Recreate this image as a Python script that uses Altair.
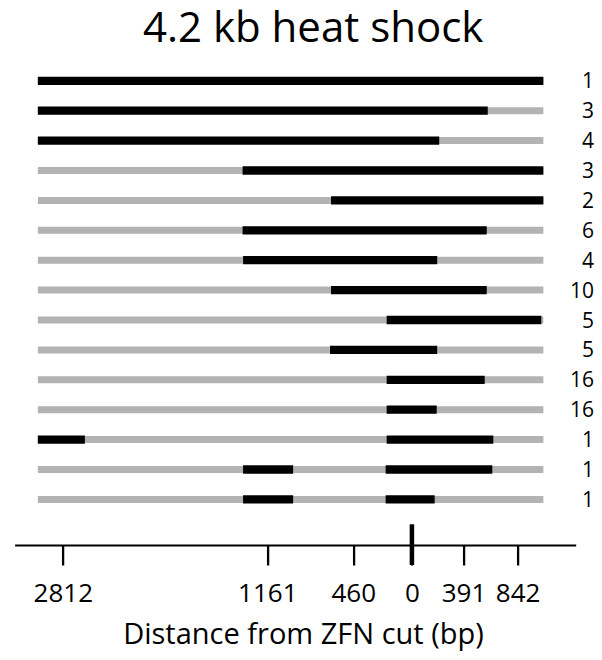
import altair as alt
import pandas as pd

title_text = "4.2 kb heat shock"
x_title = "Distance from ZFN cut (bp)"

# number of clones for each read pattern (top to bottom)
counts = [1, 3, 4, 3, 2, 6, 4, 10, 5, 5, 16, 16, 1, 1, 1]

# schematic coordinate along the locus: 0 = left end, 100 = right end
read_start = [0] * 15
read_end = [100] * 15

# converted (black) tracts per read, in the same schematic coordinate
black_segments = [
    [(0, 100)],
    [(0, 89.0)],
    [(0, 79.4)],
    [(40.5, 100)],
    [(58.0, 100)],
    [(40.5, 88.8)],
    [(40.6, 79.0)],
    [(58.0, 88.8)],
    [(69.0, 99.6)],
    [(57.8, 79.0)],
    [(69.0, 88.4)],
    [(69.0, 78.9)],
    [(0, 9.3), (69.0, 90.1)],
    [(40.6, 50.5), (68.8, 89.9)],
    [(40.6, 50.5), (68.8, 78.5)],
]

# axis marker positions (schematic coordinate) and their bp labels
tick_positions = [4.93, 45.4, 62.4, 74.0, 84.2, 94.9]
tick_labels = ["2812", "1161", "460", "0", "391", "842"]
cut_position = 74.0

rows = []
for i in range(len(counts)):
    rows.append({"row": i, "start": read_start[i], "end": read_end[i], "kind": "gray"})
for i, segs in enumerate(black_segments):
    for s, e in segs:
        rows.append({"row": i, "start": s, "end": e, "kind": "black"})
df = pd.DataFrame(rows)
cut_df = pd.DataFrame({"start": [cut_position]})

FONT = "Open Sans"
W, H = 561.1, 485
PAD_L = 6.6
PAD_R = 586 - W - PAD_L

pos_js = "[" + ",".join(str(p) for p in tick_positions) + "]"
lab_js = "[" + ",".join("'" + t + "'" for t in tick_labels) + "]"
cnt_js = "[" + ",".join(str(c) for c in counts) + "]"

x_enc = alt.X(
    "start:Q",
    scale=alt.Scale(domain=[-4.6, 106.4], nice=False, zero=False),
    axis=alt.Axis(
        values=tick_positions,
        labelExpr=f"{lab_js}[indexof({pos_js}, datum.value)]",
        grid=False,
        domainColor="black",
        domainWidth=2,
        tickColor="black",
        tickWidth=2.3,
        tickSize=20,
        labelFont=FONT,
        labelFontSize=26,
        labelColor="black",
        labelBaseline="alphabetic",
        labelPadding=36.7,
        labelOverlap=False,
        labelFlush=False,
        title=x_title,
        titleFont=FONT,
        titleFontSize=29,
        titleFontWeight="normal",
        titleColor="black",
        titleBaseline="alphabetic",
        titleAlign="center",
        titleX=288.4,
        titleY=98.5,
    ),
)

y_enc = alt.Y(
    "row:Q",
    scale=alt.Scale(domain=[-0.696, 15.525], reverse=True, nice=False, zero=False),
    axis=alt.Axis(
        orient="right",
        values=list(range(len(counts))),
        labelExpr=f"{cnt_js}[datum.value]",
        ticks=False,
        domain=False,
        grid=False,
        title=None,
        labelAlign="right",
        labelBaseline="middle",
        labelPadding=PAD_R - 0.5,
        labelOffset=1,
        labelFont=FONT,
        labelFontSize=21,
        labelColor="black",
    ),
)

bars = alt.Chart(df).mark_rule(strokeCap="butt").encode(
    x=x_enc,
    x2="end:Q",
    y=y_enc,
    color=alt.Color("kind:N", scale=alt.Scale(domain=["gray", "black"], range=["#b3b3b3", "#000000"]), legend=None),
    strokeWidth=alt.StrokeWidth("kind:N", scale=alt.Scale(domain=["gray", "black"], range=[7, 8.3]), legend=None),
)

cut_tick = alt.Chart(cut_df).mark_rule(color="black", strokeWidth=4.5, strokeCap="butt").encode(
    x=alt.X("start:Q"),
    y=alt.value(H - 20.7),
    y2=alt.value(H + 20),
)

chart = alt.layer(bars, cut_tick).properties(
    width=W,
    height=H,
    autosize=alt.AutoSizeParams(type="none"),
    padding={"left": PAD_L, "top": 52, "right": PAD_R, "bottom": 107},
    title=alt.TitleParams(
        title_text,
        font=FONT,
        fontSize=42,
        fontWeight="normal",
        color="black",
        anchor="middle",
        dx=18,
        dy=-5,
    ),
).configure(background="white").configure_view(stroke=None)

chart.save("out.html", embed_options={"renderer": "svg", "actions": False})
